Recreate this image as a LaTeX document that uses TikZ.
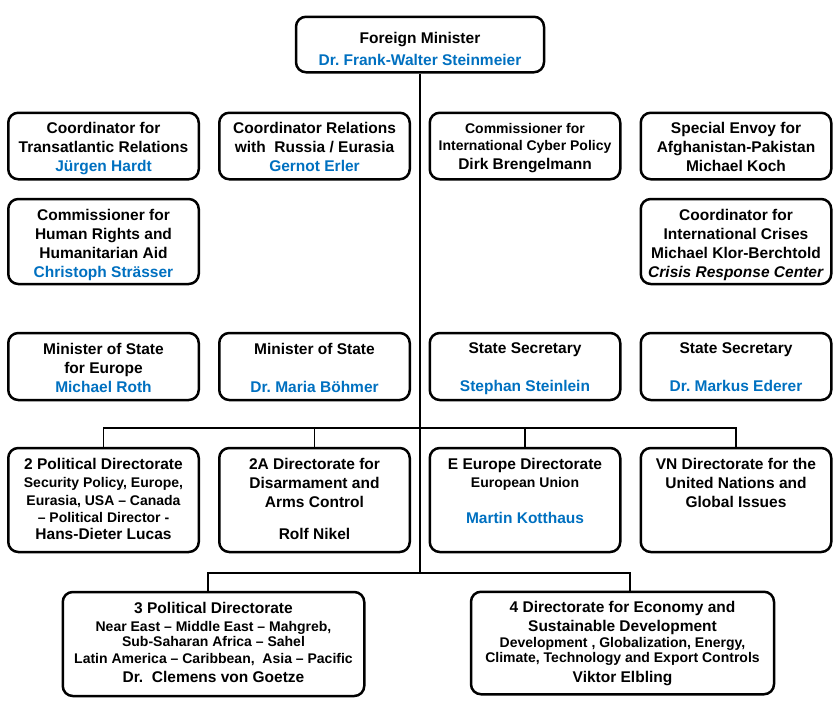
\documentclass[tikz,border=0pt]{standalone}
\usepackage{fontspec}
\setmainfont{Liberation Sans}
\usetikzlibrary{positioning}
\definecolor{nameblue}{RGB}{0,112,192}
\newcommand{\sm}{\fontsize{14}{19}\selectfont}
\newcommand{\nm}[1]{\textcolor{nameblue}{#1}}
\frenchspacing
\begin{document}
\begin{tikzpicture}[x=1pt,y=-1pt]
  \tikzstyle{box}=[draw,line width=2.5pt,rounded corners=10pt,inner sep=0pt]
  \tikzstyle{cell}=[box,minimum width=190.5pt]
  \tikzstyle{txt}=[align=center,inner sep=0pt,font=\fontsize{15.5}{19}\selectfont\bfseries]
  \tikzstyle{edge}=[draw,line width=1.8pt]
  \useasboundingbox (0,0) rectangle (840,712);
  % minister
  \node[box,minimum width=248pt,minimum height=55.5pt] (fm) at (420,44.5) {};
  \node[txt,below=17pt of fm.north] (fm-t) {Foreign Minister\\[3pt]\nm{Dr. Frank-Walter Steinmeier}};
  % coordinators and commissioners
  \node[cell,minimum height=66.5pt] (tr) at (103.5,146) {};
  \node[cell,minimum height=66.5pt] (ru) at (314.5,146) {};
  \node[cell,minimum height=66.5pt] (cy) at (525,146) {};
  \node[cell,minimum height=66.5pt] (af) at (736,146) {};
  \node[cell,minimum height=85pt] (hr) at (103.5,241.5) {};
  \node[cell,minimum height=85pt] (cr) at (736,241.5) {};
  \node[txt,below=11pt of tr.north] (tr-t) {Coordinator for\\Transatlantic Relations\\\nm{Jürgen Hardt}};
  \node[txt,below=11pt of ru.north] (ru-t) {Coordinator Relations\\with\ \ Russia / Eurasia\\\nm{Gernot Erler}};
  \node[txt,below=12pt of cy.north] (cy-t) {{\sm Commissioner for}\\[-2pt]{\sm International Cyber Policy}\\[-0.5pt]Dirk Brengelmann};
  \node[txt,below=11pt of af.north] (af-t) {Special Envoy for\\Afghanistan-Pakistan\\Michael Koch};
  \node[txt,below=11pt of hr.north] (hr-t) {Commissioner for\\Human Rights and\\Humanitarian Aid\\\nm{Christoph Strässer}};
  \node[txt,below=11pt of cr.north] (cr-t) {Coordinator for\\International Crises\\Michael Klor-Berchtold\\\textit{Crisis Response Center}};
  % ministers of state and state secretaries
  \node[cell,minimum height=67pt] (ms1) at (103.5,366.5) {};
  \node[cell,minimum height=67pt] (ms2) at (314.5,366.5) {};
  \node[cell,minimum height=67pt] (ss1) at (525,366.5) {};
  \node[cell,minimum height=67pt] (ss2) at (736,366.5) {};
  \node[txt,below=11pt of ms1.north] (ms1-t) {Minister of State\\for Europe\\\nm{Michael Roth}};
  \node[txt,below=11pt of ms2.north] (ms2-t) {Minister of State\\[19pt]\nm{Dr. Maria Böhmer}};
  \node[txt,below=11pt of ss1.north] (ss1-t) {State Secretary\\[19pt]\nm{Stephan Steinlein}};
  \node[txt,below=11pt of ss2.north] (ss2-t) {State Secretary\\[19pt]\nm{Dr. Markus Ederer}};
  % directorates
  \node[cell,minimum height=104pt] (pd2) at (103.5,500) {};
  \node[cell,minimum height=104pt] (dis) at (314.5,500) {};
  \node[cell,minimum height=104pt] (eu) at (525,500) {};
  \node[cell,minimum height=104pt] (vn) at (736,500) {};
  \node[txt,below=11pt of pd2.north] (pd2-t) {2 Political Directorate\\[-0.5pt]{\sm Security Policy, Europe,}\\[-1pt]{\sm Eurasia, USA -- Canada}\\[-2pt]{\sm -- Political Director -}\\[-2.5pt]Hans-Dieter Lucas};
  \node[txt,below=11pt of dis.north] (dis-t) {2A Directorate for\\Disarmament and\\Arms Control\\[13pt]Rolf Nikel};
  \node[txt,below=11pt of eu.north] (eu-t) {E Europe Directorate\\[-1pt]{\sm European Union}\\[17pt]\nm{Martin Kotthaus}};
  \node[txt,below=11pt of vn.north] (vn-t) {VN Directorate for the\\United Nations and\\Global Issues};
  \node[box,minimum width=301.5pt,minimum height=104pt] (pd3) at (213.5,644) {};
  \node[box,minimum width=303pt,minimum height=102.5pt] (eco) at (622.5,643) {};
  \node[txt,below=11pt of pd3.north] (pd3-t) {3 Political Directorate\\[-0.5pt]{\sm Near East -- Middle East -- Mahgreb,}\\[-4pt]{\sm Sub-Saharan Africa -- Sahel}\\[-2pt]{\sm Latin America -- Caribbean,\ \ Asia -- Pacific}\\[-0.5pt]Dr.\ \ Clemens von Goetze};
  \node[txt,below=11pt of eco.north] (eco-t) {4 Directorate for Economy and\\[0pt]Sustainable Development\\[-3.5pt]{\sm Development , Globalization, Energy,}\\[-3.5pt]{\sm Climate, Technology and Export Controls}\\[0.5pt]Viktor Elbling};
  % connectors
  \coordinate (b4) at (420,428);
  \coordinate (b5) at (420,573);
  \path[edge] (fm.south) -- (b5);
  \path[edge] (pd2.north) |- (b4) -| (vn.north);
  \path[edge] (dis.north) -- (dis.north |- b4);
  \path[edge] (eu.north) -- (eu.north |- b4);
  \path[edge] ([xshift=-5.5pt]pd3.north) |- (b5) -| ([xshift=7.5pt]eco.north);
\end{tikzpicture}
\end{document}
